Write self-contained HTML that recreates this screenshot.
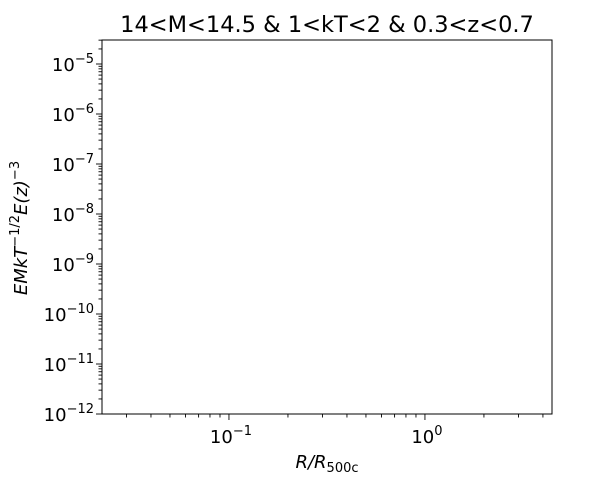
<!DOCTYPE html>
<html><head><meta charset="utf-8"><style>
html,body{margin:0;padding:0;background:#fff;}
svg{display:block;font-family:"DejaVu Sans","Liberation Sans",sans-serif;}
</style></head><body>
<svg id="chart" width="600" height="500">
<text x="327" y="32" font-size="22.5" text-anchor="middle">14&lt;M&lt;14.5 &amp; 1&lt;kT&lt;2 &amp; 0.3&lt;z&lt;0.7</text>
<g id="ticks"></g>
<rect x="102" y="40" width="450" height="374" fill="none" stroke="#000" stroke-width="1"/>
<text x="327" y="468" font-size="18" text-anchor="middle" font-style="italic">R/R<tspan font-size="13" dy="4" font-style="normal">500c</tspan></text>
<text transform="translate(27,228) rotate(-90)" font-size="18" text-anchor="middle" font-style="italic">EMkT<tspan font-size="13" dy="-8" font-style="normal">−1/2</tspan><tspan dy="8">E(z)</tspan><tspan font-size="13" dy="-8" font-style="normal">−3</tspan></text>
</svg>
<script>
const xMajorExps = [-1, 0];
const yMajorExps = [-12, -11, -10, -9, -8, -7, -6, -5];
const xDomain = [0.0225, 4.45];
const yDomain = [1e-12, Math.pow(10, -4.52)];
const L = 102, R = 552, T = 40, B = 414;
const NS = 'http://www.w3.org/2000/svg';
const g = document.getElementById('ticks');
function xs(v){return L + (Math.log10(v)-Math.log10(xDomain[0]))/(Math.log10(xDomain[1])-Math.log10(xDomain[0]))*(R-L);}
function ys(v){return B - (Math.log10(v)-Math.log10(yDomain[0]))/(Math.log10(yDomain[1])-Math.log10(yDomain[0]))*(B-T);}
function line(x1,y1,x2,y2){const l=document.createElementNS(NS,'line');l.setAttribute('x1',x1);l.setAttribute('y1',y1);l.setAttribute('x2',x2);l.setAttribute('y2',y2);l.setAttribute('stroke','#000');l.setAttribute('stroke-width','0.9');g.appendChild(l);return l;}
function label(x,y,exp,anchor){const t=document.createElementNS(NS,'text');t.setAttribute('x',x);t.setAttribute('y',y);t.setAttribute('font-size','18');t.setAttribute('text-anchor',anchor);t.innerHTML='10<tspan font-size="13" dy="-8">'+String(exp).replace('-','−')+'</tspan>';g.appendChild(t);return t;}
for(let e=-2;e<=0;e++){for(let m=1;m<10;m++){const v=m*Math.pow(10,e);if(v<xDomain[0]||v>xDomain[1])continue;const x=xs(v);const major=m===1;const l=line(x,B,x,B+(major?6:3.5));

}}
xMajorExps.forEach(e=>{const t=label(xs(Math.pow(10,e))+2,443,e,'middle');

});
for(let e=-12;e<=-5;e++){for(let m=1;m<10;m++){const v=m*Math.pow(10,e);if(v<yDomain[0]*0.999||v>yDomain[1])continue;const y=ys(v);const major=m===1;const l=line(L,y,L-(major?6:3.5),y);

}}
yMajorExps.forEach(e=>{const t=label(L-8,ys(Math.pow(10,e))+7,e,'end');

});
</script>
</body></html>
